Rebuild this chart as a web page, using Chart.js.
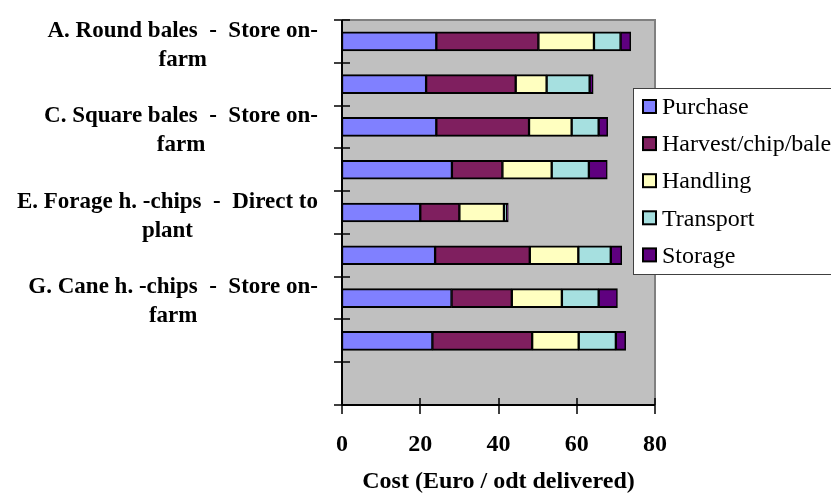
<!DOCTYPE html>
<html>
<head>
<meta charset="utf-8">
<script src="https://cdn.jsdelivr.net/npm/chart.js@4/dist/chart.umd.min.js"></script>
<style>
  html, body { margin: 0; padding: 0; background: #ffffff; }
  #wrap { width: 831px; height: 494px; }
</style>
</head>
<body>
<div id="wrap"><canvas id="c" width="831" height="494"></canvas></div>
<script>
// Delivery chains (only every other one carries a printed label)
const categories = [
  ['A. Round bales  -  Store on-', 'farm'],
  [''],
  ['C. Square bales  -  Store on-', 'farm'],
  [''],
  ['E. Forage h. -chips  -  Direct to', 'plant'],
  [''],
  ['G. Cane h. -chips  -  Store on-', 'farm'],
  [''],
  ['']
];

// Cost components, Euro per oven-dry tonne delivered
const purchase  = [24.1, 21.5, 24.1, 28.1, 20.0, 23.8, 28.0, 23.1, null];
const harvest   = [26.1, 22.9, 23.7, 12.9, 10.0, 24.2, 15.4, 25.5, null];
const handling  = [14.2,  7.9, 10.9, 12.6, 11.4, 12.4, 12.8, 11.9, null];
const transport = [ 6.8, 11.0,  6.9,  9.5,  0.8,  8.3,  9.4,  9.5, null];
const storage   = [ 2.6,  0.9,  2.3,  4.7,  0.3,  2.8,  4.8,  2.5, null];

const seriesNames = ['Purchase', 'Harvest/chip/bale', 'Handling', 'Transport', 'Storage'];
const seriesColors = ['#8080FF', '#7F1F5F', '#FFFFC0', '#A6E0E0', '#5F007F'];
const xTicks = [0, 20, 40, 60, 80];

const SERIF = '"Liberation Serif", "Times New Roman", serif';

const seriesData = [purchase, harvest, handling, transport, storage];
const datasets = seriesData.map((d, i) => ({
  label: seriesNames[i],
  data: d,
  backgroundColor: seriesColors[i],
  borderColor: '#000000',
  borderWidth: { top: 2, bottom: 2, left: 1.5, right: 1.5 },
  borderSkipped: false,
  barThickness: 19
}));

// Gray plot area, frame, cross ticks, wrapped category labels and legend
const decor = {
  id: 'decor',
  beforeDatasetsDraw(chart) {
    const { ctx, chartArea: a } = chart;
    ctx.save();
    ctx.fillStyle = '#C0C0C0';
    ctx.fillRect(a.left, a.top, a.right - a.left, a.bottom - a.top);
    ctx.restore();
  },
  afterDatasetsDraw(chart) {
    const { ctx, chartArea: a, scales } = chart;
    const xs = scales.x, ys = scales.y;
    ctx.save();
    // top and right edges of the plot frame
    ctx.strokeStyle = '#808080';
    ctx.lineWidth = 2;
    ctx.beginPath();
    ctx.moveTo(a.left, a.top);
    ctx.lineTo(a.right, a.top);
    ctx.lineTo(a.right, a.bottom);
    ctx.stroke();
    // axis lines
    ctx.strokeStyle = '#000000';
    ctx.beginPath();
    ctx.moveTo(a.left, a.top);
    ctx.lineTo(a.left, a.bottom);
    ctx.moveTo(a.left, a.bottom);
    ctx.lineTo(a.right, a.bottom);
    ctx.stroke();
    // x ticks crossing the axis
    ctx.lineWidth = 1.5;
    ctx.beginPath();
    xTicks.forEach(v => {
      const px = Math.round(xs.getPixelForValue(v));
      ctx.moveTo(px, a.bottom - 7);
      ctx.lineTo(px, a.bottom + 9);
    });
    // y ticks at category boundaries
    const n = categories.length;
    const step = (a.bottom - a.top) / n;
    for (let i = 0; i <= n; i++) {
      const py = Math.round(ys.getPixelForValue(0) - step / 2 + i * step);
      ctx.moveTo(a.left - 8, py);
      ctx.lineTo(a.left + 8, py);
    }
    ctx.stroke();
    ctx.restore();
  },
  afterDraw(chart) {
    const { ctx, scales } = chart;
    const ys = scales.y;
    ctx.save();
    // category labels: block right-aligned, lines centred in the block
    ctx.font = 'bold 23px ' + SERIF;
    ctx.fillStyle = '#000000';
    ctx.textAlign = 'center';
    ctx.textBaseline = 'middle';
    const lineH = 29;
    const rightEdge = 318;
    categories.forEach((lines, i) => {
      const w = Math.max(...lines.map(l => ctx.measureText(l).width));
      const cx = rightEdge - w / 2;
      const cy = ys.getPixelForValue(i) + 4;
      const y0 = cy - (lines.length - 1) * lineH / 2;
      lines.forEach((l, j) => ctx.fillText(l, cx, y0 + j * lineH));
    });
    // legend box
    const lx = 633, ly = 88, lw = 220, lh = 186;
    ctx.fillStyle = '#ffffff';
    ctx.fillRect(lx, ly, lw, lh);
    ctx.strokeStyle = '#404040';
    ctx.lineWidth = 1;
    ctx.strokeRect(lx + 0.5, ly + 0.5, lw, lh);
    ctx.font = '24px ' + SERIF;
    ctx.textAlign = 'left';
    chart.data.datasets.forEach((ds, i) => {
      const cy = 107 + i * 37.1;
      ctx.fillStyle = ds.backgroundColor;
      ctx.fillRect(643, cy - 7, 13, 13);
      ctx.strokeStyle = '#000000';
      ctx.lineWidth = 2;
      ctx.strokeRect(643, cy - 7, 13, 13);
      ctx.fillStyle = '#000000';
      ctx.fillText(ds.label, 662, cy + 1);
    });
    ctx.restore();
  }
};

new Chart(document.getElementById('c'), {
  type: 'bar',
  data: { labels: categories.map(l => l.join(' ')), datasets },
  options: {
    indexAxis: 'y',
    responsive: false,
    animation: false,
    devicePixelRatio: 1,
    layout: { padding: { top: 20, right: 176, left: 0, bottom: 0 } },
    plugins: { legend: { display: false }, tooltip: { enabled: false } },
    scales: {
      x: {
        type: 'linear',
        stacked: true,
        min: 0,
        max: 80,
        afterBuildTicks(scale) { scale.ticks = xTicks.map(v => ({ value: v })); },
        afterFit(scale) { scale.height = 89; },
        grid: { display: false },
        border: { display: false },
        ticks: {
          padding: 17,
          color: '#000000',
          font: { family: SERIF, size: 24, weight: 'bold' },
          maxRotation: 0
        },
        title: {
          display: true,
          text: 'Cost (Euro / odt delivered)',
          color: '#000000',
          font: { family: SERIF, size: 24, weight: 'bold', lineHeight: 1 },
          padding: 0
        }
      },
      y: {
        type: 'category',
        stacked: true,
        offset: true,
        afterFit(scale) { scale.width = 342; },
        grid: { display: false },
        border: { display: false },
        ticks: { display: false }
      }
    }
  },
  plugins: [decor]
});
</script>
</body>
</html>
